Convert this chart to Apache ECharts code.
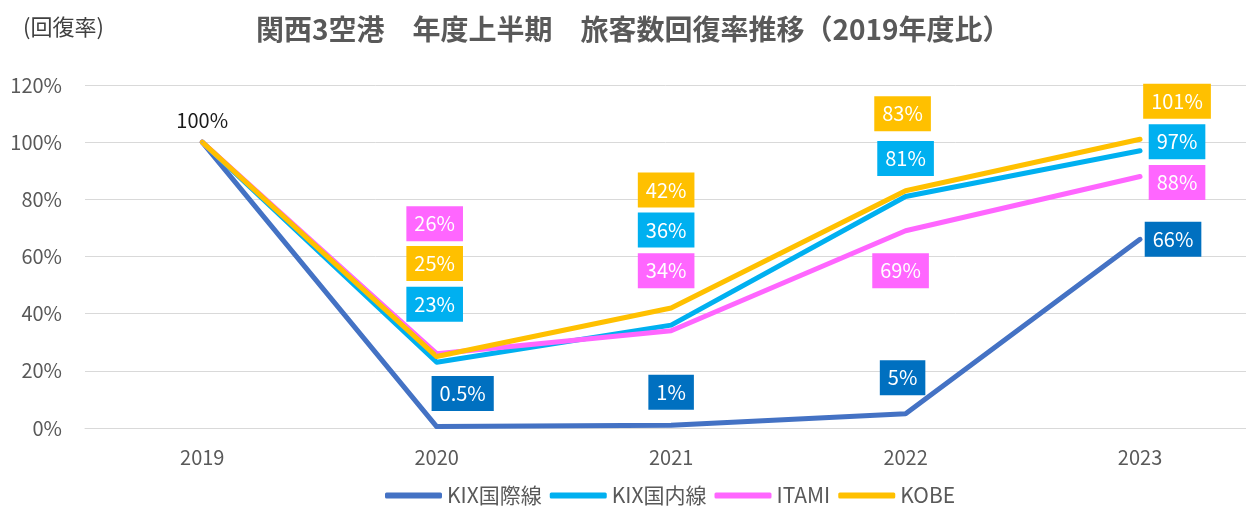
<!DOCTYPE html>
<html>
<head>
<meta charset="utf-8">
<script src="https://cdn.jsdelivr.net/npm/echarts@6/dist/echarts.min.js"></script>
<style>html,body{margin:0;padding:0;background:#fff}#c{width:1246px;height:509px}</style>
</head>
<body>
<div id="c"></div>
<script>
const categories = ['2019', '2020', '2021', '2022', '2023'];
const kixIntl = [100, 0.5, 1, 5, 66];
const kixDom = [100, 23, 36, 81, 97];
const itami = [100, 26, 34, 69, 88];
const kobe = [100, 25, 42, 83, 101];
const yTicks = [0, 20, 40, 60, 80, 100, 120];

const FONT = '"Noto Sans CJK JP", "Noto Sans", sans-serif';

// label offsets (styling only), per point
const offIntl = [null, [26, -33], [0, -33], [-3, -36], [33, 0]];
const offDom = [null, [-2, -58], [-5, -95], [0, -38], [37, -9]];
const offItami = [null, [-2, -130], [-5, -60], [-5, 40], [37, 6]];
const offKobe = [null, [-2, -93], [-5, -118], [-3, -77], [37, -38]];

function fmt(v) { return v + '%'; }

function makeSeries(name, values, lineColor, labelBg, offsets, firstLabel) {
  return {
    name: name,
    type: 'line',
    symbol: 'circle',
    symbolSize: 1,
    lineStyle: { width: 5, color: lineColor, cap: 'round', join: 'round' },
    itemStyle: { color: lineColor },
    data: values.map(function (v, i) {
      let item = { value: [i, v] };
      if (i === 0) {
        if (firstLabel) {
          item.label = {
            show: true, position: 'top', distance: 10, offset: [0, 0],
            backgroundColor: 'transparent', color: '#1a1a1a', padding: 0
          };
        } else {
          item.label = { show: false };
        }
      } else {
        item.label = { offset: offsets[i] };
      }
      return item;
    }),
    label: {
      show: true,
      position: 'inside',
      formatter: function (p) { return fmt(p.value[1]); },
      color: '#ffffff',
      fontFamily: FONT,
      fontSize: 20,
      lineHeight: 22,
      backgroundColor: labelBg,
      padding: [7, 8, 6, 8]
    },
    emphasis: { disabled: true },
    animation: false
  };
}

const chart = echarts.init(document.getElementById('c'), null, { renderer: 'canvas' });
chart.setOption({
  backgroundColor: '#ffffff',
  animation: false,
  textStyle: { fontFamily: FONT },
  title: [
    {
      text: '関西3空港　年度上半期　旅客数回復率推移（2019年度比）',
      left: 251, top: 10,
      textStyle: { fontFamily: FONT, fontSize: 28, fontWeight: 'bold', color: '#595959' }
    },
    {
      text: '(回復率)',
      left: 18, top: 11,
      textStyle: { fontFamily: FONT, fontSize: 22, fontWeight: 'normal', color: '#404040' }
    }
  ],
  legend: {
    bottom: -2,
    left: 380,
    itemWidth: 57,
    itemHeight: 6,
    itemGap: 8,
    icon: 'roundRect',
    textStyle: { fontFamily: FONT, fontSize: 21, color: '#595959' },
    data: ['KIX国際線', 'KIX国内線', 'ITAMI', 'KOBE']
  },
  grid: { left: 85, top: 85, right: 0, height: 343, containLabel: false },
  xAxis: {
    type: 'value',
    min: -0.5,
    max: 4.452,
    axisLine: { show: true, onZero: false, lineStyle: { color: '#D9D9D9', width: 1 } },
    axisTick: { show: false },
    splitLine: { show: false },
    axisLabel: {
      fontFamily: FONT, fontSize: 20, color: '#595959', margin: 19,
      customValues: [0, 1, 2, 3, 4],
      formatter: function (v) { return categories[Math.round(v)]; }
    }
  },
  yAxis: {
    type: 'value',
    min: yTicks[0],
    max: yTicks[yTicks.length - 1],
    interval: 20,
    axisLine: { show: false },
    axisTick: { show: false },
    axisLabel: { fontFamily: FONT, fontSize: 20, color: '#595959', margin: 23, formatter: '{value}%' },
    splitLine: { lineStyle: { color: '#D9D9D9', width: 1 } }
  },
  series: [
    makeSeries('KIX国際線', kixIntl, '#4472C4', '#0070C0', offIntl, false),
    makeSeries('KIX国内線', kixDom, '#00B0F0', '#00B0F0', offDom, false),
    makeSeries('ITAMI', itami, '#FF66FF', '#FF66FF', offItami, false),
    makeSeries('KOBE', kobe, '#FFC000', '#FFC000', offKobe, true)
  ]
});
</script>
</body>
</html>
